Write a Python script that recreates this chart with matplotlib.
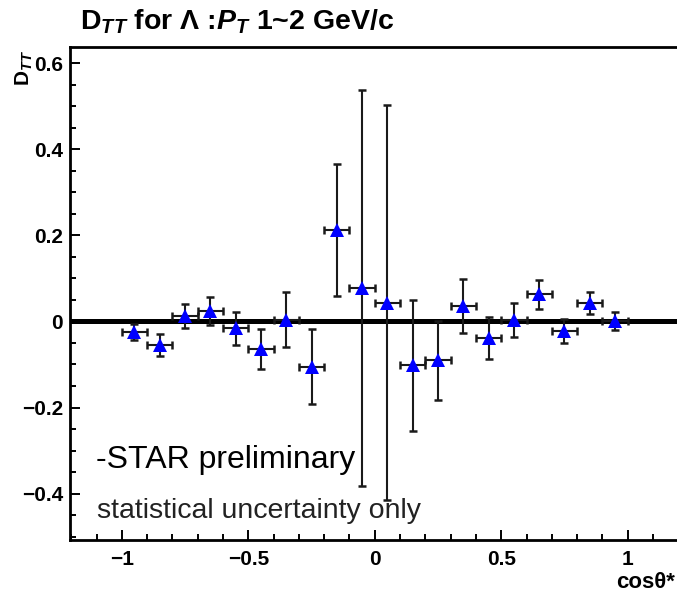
import matplotlib
matplotlib.use("Agg")
import matplotlib.pyplot as plt
from matplotlib.ticker import MultipleLocator, FuncFormatter

# fonts: Helvetica-like, bold math for the title / labels
plt.rcParams['font.family'] = ['Liberation Sans', 'DejaVu Sans']
plt.rcParams['mathtext.fontset'] = 'custom'
plt.rcParams['mathtext.rm'] = 'Liberation Sans:bold'
plt.rcParams['mathtext.bf'] = 'Liberation Sans:bold'
plt.rcParams['mathtext.it'] = 'Liberation Sans:italic:bold'

# 1. Data
cos_theta = [-0.95, -0.85, -0.75, -0.65, -0.55, -0.45, -0.35, -0.25, -0.15, -0.05,
             0.05, 0.15, 0.25, 0.35, 0.45, 0.55, 0.65, 0.75, 0.85, 0.95]
bin_half_width = 0.05
dtt = [-0.025, -0.055, 0.012, 0.025, -0.016, -0.064, 0.004, -0.105, 0.212, 0.078,
       0.044, -0.102, -0.090, 0.036, -0.039, 0.003, 0.063, -0.022, 0.043, 0.000]
dtt_err = [0.018, 0.025, 0.028, 0.033, 0.038, 0.047, 0.064, 0.088, 0.153, 0.460,
           0.460, 0.153, 0.092, 0.063, 0.049, 0.040, 0.034, 0.028, 0.025, 0.021]


# ROOT-like tick labels: "0", "0.2", "−0.5", "1"
def root_fmt(v, pos):
    s = f"{v:g}"
    if s == "-0":
        s = "0"
    return s.replace("-", "\u2212")


# 2. Figure and axes
fig = plt.figure(figsize=(6.77, 5.97), dpi=100)
ax = fig.add_axes([70 / 677, 1 - 540 / 597, 1 - 70 / 677, (540 - 47) / 597])

# 3. Zero line, error bars (with end caps) and markers
ax.axhline(0, color='black', linewidth=3.6, zorder=1)
ax.errorbar(cos_theta, dtt, xerr=bin_half_width, yerr=dtt_err, fmt='none',
            ecolor='#1a1a1a', elinewidth=1.5, capsize=3, capthick=1.8, zorder=2)
ax.plot(cos_theta, dtt, linestyle='none', marker='^', color='#0000ff',
        markersize=9.5, markeredgewidth=0, zorder=3)

ax.set_xlim(-1.205, 1.195)
ax.set_ylim(-0.508, 0.638)

# 4. Ticks and spines (ROOT style)
ax.xaxis.set_major_locator(MultipleLocator(0.5))
ax.xaxis.set_minor_locator(MultipleLocator(0.1))
ax.yaxis.set_major_locator(MultipleLocator(0.2))
ax.yaxis.set_minor_locator(MultipleLocator(0.05))
ax.xaxis.set_major_formatter(FuncFormatter(root_fmt))
ax.yaxis.set_major_formatter(FuncFormatter(root_fmt))
ax.tick_params(which='both', direction='in', width=1.4, labelsize=15)
ax.tick_params(which='major', length=7)
ax.tick_params(which='minor', length=4)
ax.tick_params(axis='x', pad=7)
ax.tick_params(axis='y', pad=5)
for lab in ax.get_xticklabels() + ax.get_yticklabels():
    lab.set_fontweight('bold')
for side in ['left', 'bottom', 'top']:
    ax.spines[side].set_linewidth(2)
ax.spines['right'].set_visible(False)

# 5. Labels and text
fig.text(80 / 677, 1 - 22 / 597, r'D$_{TT}$ for $\Lambda$ :$P_T$ 1~2 GeV/c',
         fontsize=20.5, fontweight='bold', ha='left', va='center')
fig.text(24 / 677, 1 - 68 / 597, r'D$_{TT}$', rotation=90,
         fontsize=15, fontweight='bold', ha='center', va='center')
fig.text(0.997, 1 - 583 / 597, 'cosθ*', fontsize=16, fontweight='bold',
         ha='right', va='center')
fig.text(96 / 677, 1 - 468 / 597, '-STAR preliminary', fontsize=23,
         ha='left', va='baseline')
fig.text(97 / 677, 1 - 518 / 597, 'statistical uncertainty only', fontsize=20.5,
         color='#222222', ha='left', va='baseline')

# 6. Save
fig.savefig('out.png', dpi=100)
